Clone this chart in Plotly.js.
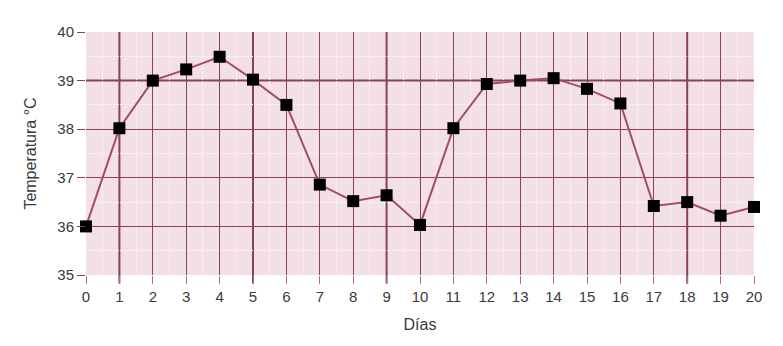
<!DOCTYPE html>
<html>
<head>
<meta charset="utf-8">
<script src="https://cdn.plot.ly/plotly-3.0.1.min.js"></script>
<style>html,body{margin:0;padding:0;background:#fff;}#chart{width:783px;height:346px;}</style>
</head>
<body>
<div id="chart"></div>
<script>
const days = [0,1,2,3,4,5,6,7,8,9,10,11,12,13,14,15,16,17,18,19,20];
const temps = [36.0,38.02,39.0,39.23,39.49,39.02,38.5,36.86,36.52,36.64,36.03,38.02,38.93,39.0,39.05,38.83,38.53,36.42,36.5,36.22,36.4];
const xTicks = [0,1,2,3,4,5,6,7,8,9,10,11,12,13,14,15,16,17,18,19,20];
const yTicks = [35,36,37,38,39,40];
const strongX = [1,5,9,18];
const strongY = [39];

const gridCol = '#8a3f5f';
const shapes = [];
strongX.forEach(v => shapes.push({type:'line', xref:'x', yref:'paper', x0:v, x1:v, y0:-0.035, y1:1, line:{color:gridCol, width:2}, layer:'below'}));
strongY.forEach(v => shapes.push({type:'line', xref:'paper', yref:'y', x0:0, x1:1, y0:v, y1:v, line:{color:gridCol, width:2}, layer:'below'}));

const trace = {
  x: days, y: temps, type:'scatter', mode:'lines+markers',
  line:{color:'#a34a6c', width:2},
  marker:{symbol:'square', size:12, color:'#000'},
  cliponaxis:false
};

const layout = {
  width:783, height:346,
  margin:{l:86, r:29, t:32, b:71},
  paper_bgcolor:'#ffffff', plot_bgcolor:'#f3e0e6',
  showlegend:false,
  font:{family:'Liberation Sans, Arial, sans-serif', color:'#3a3a3a', size:15},
  xaxis:{
    range:[0,20], tickvals:xTicks, ticktext:xTicks.map(String),
    showgrid:true, gridcolor:gridCol, gridwidth:1,
    minor:{dtick:0.5, showgrid:true, gridcolor:'#f8eef1', gridwidth:1},
    ticks:'outside', ticklen:8, tickcolor:'#b56a88', tickwidth:1,
    zeroline:false, showline:false,
    title:{text:'Días', font:{size:16, color:'#3a3a3a'}, standoff:14},
    fixedrange:true
  },
  yaxis:{
    range:[35,40], tickvals:yTicks, ticktext:yTicks.map(String),
    showgrid:true, gridcolor:gridCol, gridwidth:1,
    minor:{dtick:0.5, showgrid:true, gridcolor:'#f8eef1', gridwidth:1},
    ticks:'outside', ticklen:8, tickcolor:gridCol, tickwidth:1,
    zeroline:false, showline:false,
    title:{text:'Temperatura °C', font:{size:16, color:'#3a3a3a'}, standoff:16},
    fixedrange:true
  },
  shapes: shapes
};
Plotly.newPlot('chart', [trace], layout, {staticPlot:true, displayModeBar:false});
</script>
</body>
</html>
